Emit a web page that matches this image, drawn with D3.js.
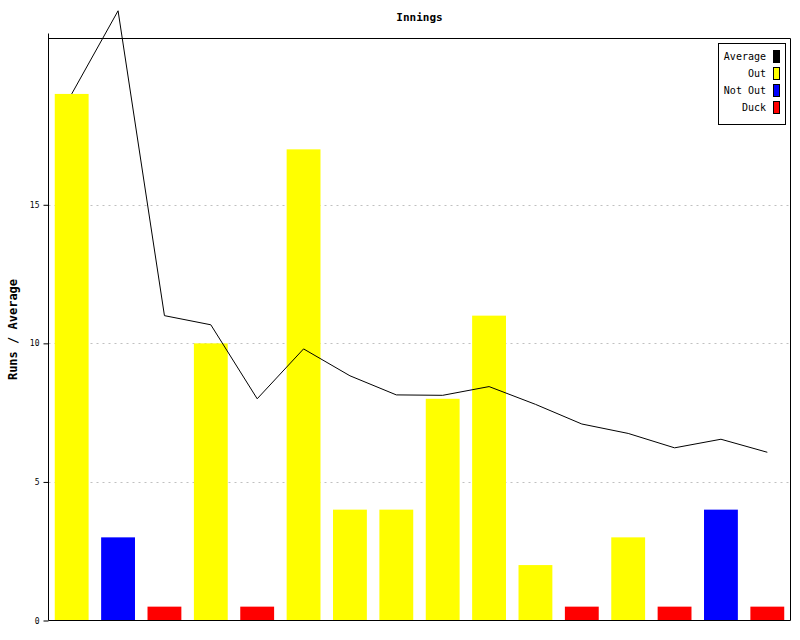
<!DOCTYPE html>
<html>
<head>
<meta charset="utf-8">
<script src="https://cdn.jsdelivr.net/npm/d3@7"></script>
<style>
body { margin: 0; background: #fff; }
svg { display: block; }
text { font-family: "DejaVu Sans Mono", "Liberation Mono", monospace; }
</style>
</head>
<body>
<svg id="chart" width="800" height="640"></svg>
<script>
// ---- data ----
const innings = ["1","2","3","4","5","6","7","8","9","10","11","12","13","14","15","16"];
const barValues = [19, 3, 0.5, 10, 0.5, 17, 4, 4, 8, 11, 2, 0.5, 3, 0.5, 4, 0.5];
const barTypes = ["Out","Not Out","Duck","Out","Duck","Out","Out","Out","Out","Out","Out","Duck","Out","Duck","Not Out","Duck"];
const average = [19, 22, 11, 10.67, 8, 9.8, 8.83, 8.14, 8.125, 8.44, 7.8, 7.09, 6.75, 6.23, 6.54, 6.07];
const yTicks = [0, 5, 10, 15];
const legendLabels = ["Average", "Out", "Not Out", "Duck"];
const legendColors = ["#000000", "#ffff00", "#0000ff", "#ff0000"];

const typeColor = { "Out": "#ffff00", "Not Out": "#0000ff", "Duck": "#ff0000" };

const svg = d3.select("#chart");
const pLeft = 48.5, pRight = 790.5, pTop = 38.5, pBottom = 620.5;

const x = d3.scaleBand().domain(innings).range([pLeft, pRight]).paddingInner(0.27).paddingOuter(0.135);
const y = d3.scaleLinear().domain([0, 21]).range([pBottom, pTop]);

// grid
svg.append("g").selectAll("line").data(yTicks.filter(d => d > 0)).join("line")
  .attr("x1", pLeft).attr("x2", pRight)
  .attr("y1", d => Math.round(y(d)) + 0.5).attr("y2", d => Math.round(y(d)) + 0.5)
  .attr("stroke", "#c0c0c0").attr("stroke-dasharray", "2,4");

// bars
svg.append("g").selectAll("rect").data(barValues).join("rect")
  .attr("x", (d, i) => x(innings[i]))
  .attr("width", x.bandwidth())
  .attr("y", d => y(d))
  .attr("height", d => y(0) - y(d))
  .attr("fill", (d, i) => typeColor[barTypes[i]]);

// frame: top and right
svg.append("line").attr("x1", pLeft).attr("x2", pRight).attr("y1", pTop).attr("y2", pTop).attr("stroke", "#000");
svg.append("line").attr("x1", pRight).attr("x2", pRight).attr("y1", pTop).attr("y2", pBottom).attr("stroke", "#000");

// y axis
const yAxis = d3.axisLeft(y).tickValues(yTicks).tickSize(5).tickSizeOuter(0).tickPadding(4);
const ga = svg.append("g").attr("transform", `translate(${pLeft},0)`).call(yAxis);
ga.select(".domain").remove();
ga.selectAll(".tick line").attr("stroke", "#000");
ga.selectAll(".tick text").style("font-size", "8px").attr("fill", "#000")
  .style("font-family", "'DejaVu Sans Mono', monospace");
svg.append("line").attr("x1", pLeft).attr("x2", pLeft).attr("y1", pTop - 5).attr("y2", pBottom).attr("stroke", "#000");
// x axis baseline
svg.append("line").attr("x1", pLeft).attr("x2", pRight).attr("y1", pBottom).attr("y2", pBottom).attr("stroke", "#000");

// average line
const line = d3.line().x((d, i) => x(innings[i]) + x.bandwidth() / 2).y(d => y(d));
svg.append("path").datum(average).attr("d", line).attr("fill", "none").attr("stroke", "#000").attr("stroke-width", 1);

// title
svg.append("text").attr("x", (pLeft + pRight) / 2).attr("y", 21).attr("text-anchor", "middle")
  .style("font-size", "11px").style("font-weight", "bold").text("Innings");

// y label
svg.append("text").attr("transform", `translate(17,${(pTop + pBottom) / 2}) rotate(-90)`)
  .attr("text-anchor", "middle").style("font-size", "12px").style("font-weight", "bold").text("Runs / Average");

// legend
const lg = svg.append("g");
lg.append("rect").attr("x", 718.5).attr("y", 43.5).attr("width", 67).attr("height", 81)
  .attr("fill", "#fff").attr("stroke", "#000");
const items = lg.selectAll("g.item").data(legendLabels).join("g").attr("class", "item")
  .attr("transform", (d, i) => `translate(0,${50 + i * 17})`);
items.append("rect").attr("x", 773.5).attr("y", 0.5).attr("width", 6).attr("height", 12)
  .attr("fill", (d, i) => legendColors[i]).attr("stroke", "#000");
items.append("text").attr("x", 766).attr("y", 10).attr("text-anchor", "end")
  .style("font-size", "10px").text(d => d);
</script>
</body>
</html>
